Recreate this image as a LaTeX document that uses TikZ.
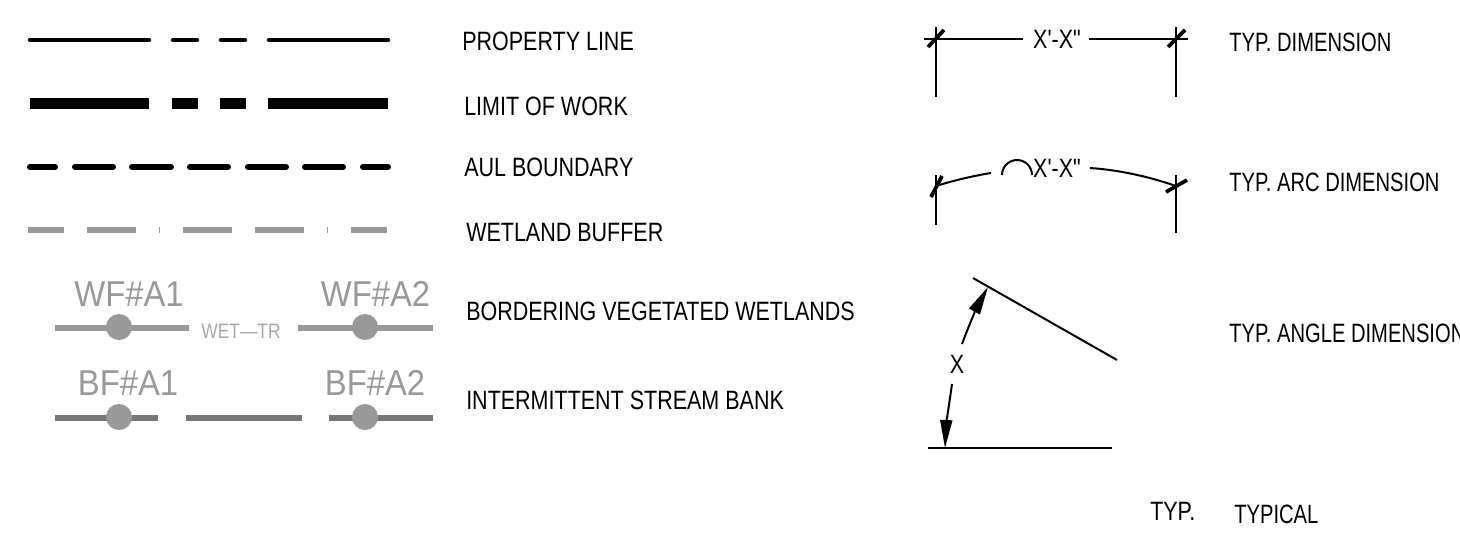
\documentclass[tikz,border=0pt]{standalone}
\usepackage{fontspec}
\setmainfont{Liberation Sans}
\newfontfamily\plainsans{Liberation Sans}
\usetikzlibrary{arrows.meta}
\definecolor{gline}{gray}{0.60}
\definecolor{gdark}{gray}{0.47}
\definecolor{gtext}{gray}{0.60}
\newcommand{\lab}[1]{\scalebox{0.81}[1]{#1}}
\newcommand{\rlab}[1]{\scalebox{0.76}[1]{#1}}
\newcommand{\tagtxt}[1]{\scalebox{0.91}[1]{#1}}
\tikzset{
  x=0.75pt,y=-0.75pt,
  lab/.style={anchor=west,inner sep=0pt,font=\fontsize{19.9}{22}\selectfont,text=black},
  prop/.style={line width=3.4pt,line cap=round,black},
  limit/.style={line width=8.2pt,line cap=butt,black},
  aul/.style={line width=4.5pt,line cap=round,black},
  buffer/.style={line width=3.8pt,line cap=butt,gline},
  wet/.style={line width=4.4pt,line cap=butt,gline},
  bank/.style={line width=4.4pt,line cap=butt,gdark},
  flag/.style={circle,fill=gline,minimum size=19.5pt,inner sep=0pt},
  gtag/.style={inner sep=0pt,font=\fontsize{27}{29}\selectfont,text=gtext},
  dim/.style={line width=1.5pt,black},
  tick/.style={line width=2.8pt,black},
  dimtxt/.style={inner sep=0pt,font=\fontsize{19.9}{22}\selectfont\plainsans,text=black},
  head/.style={-{Triangle[length=21pt,width=9pt]},line width=1.5pt,black},
}
\begin{document}
\begin{tikzpicture}
\useasboundingbox (0,0) rectangle (1460,537);
\clip (0,0) rectangle (1460,537);
% left line samples
\foreach \a/\b in {30/149,173/197,221/245,269/388} \draw[prop] (\a,40) -- (\b,40);
\foreach \a/\b in {30/149,172/198,220/246,268/388} \draw[limit] (\a,103.5) -- (\b,103.5);
\foreach \a/\b in {30/55,75/113,132/171,190/228,248/286,305/343,363/388} \draw[aul] (\a,167) -- (\b,167);
\foreach \a/\b in {28/64,87/136,183/232,255/304,351/387} \draw[buffer] (\a,230) -- (\b,230);
\foreach \a in {159,327} \draw[gline,line width=0.7pt] (\a,227) -- (\a,233);
% wetlands
\draw[wet] (55,328) -- (189,328);
\draw[wet] (298,328) -- (433,328);
\node[flag] (w1) at (119,327) {};
\node[flag] (w2) at (365,327) {};
\node[gtag] (wa1) at (129,294) {\tagtxt{WF\#A1}};
\node[gtag] (wa2) at (375.5,294) {\tagtxt{WF\#A2}};
\node[inner sep=0pt,font=\fontsize{15.7}{18}\selectfont,text=gtext!85] (wt) at (241,331) {\scalebox{0.83}[1]{WET---TR}};
% stream bank
\draw[bank] (55,418) -- (158,418);
\draw[bank] (186,418) -- (302,418);
\draw[bank] (329,418) -- (433,418);
\node[flag] (b1) at (119,417) {};
\node[flag] (b2) at (365,417) {};
\node[gtag] (ba1) at (128,383) {\tagtxt{BF\#A1}};
\node[gtag] (ba2) at (375,383) {\tagtxt{BF\#A2}};
% labels
\node[lab] (l1) at (462,41) {\lab{PROPERTY LINE}};
\node[lab] (l2) at (464,106.5) {\lab{LIMIT OF WORK}};
\node[lab] (l3) at (464,167.5) {\lab{AUL BOUNDARY}};
\node[lab] (l4) at (466,232) {\lab{WETLAND BUFFER}};
\node[lab] (l5) at (466,311) {\lab{BORDERING VEGETATED WETLANDS}};
\node[lab] (l6) at (466,400.5) {\lab{INTERMITTENT STREAM BANK}};
\node[lab] (r1) at (1229,42.5) {\rlab{TYP. DIMENSION}};
\node[lab] (r2) at (1229,182.5) {\rlab{TYP. ARC DIMENSION}};
\node[lab] (r3) at (1229,333) {\rlab{TYP. ANGLE DIMENSION}};
\node[lab] (r4) at (1150,511) {\lab{TYP.}};
\node[lab] (r5) at (1234,514) {\rlab{TYPICAL}};
% linear dimension
\node[dimtxt] (d1) at (1057,39) {\lab{X'-X"}};
\draw[dim] (924,38.5) -- (1023,38.5);
\draw[dim] (1089,38.5) -- (1188,38.5);
\draw[dim] (936,27) -- (936,97);
\draw[dim] (1176,27) -- (1176,97);
\draw[tick] (928,47) -- (944,30);
\draw[tick] (1168,47) -- (1185,30);
% arc dimension
\node[dimtxt] (d2) at (1057,168) {\lab{X'-X"}};
\draw[dim] (936,175) -- (936,225);
\draw[dim] (1176,175) -- (1176,233);
\draw[tick] (931,197) -- (942,176);
\draw[tick] (1166,192) -- (1187,180);
\draw[dim] (936,186) .. controls (952,181) and (972,176) .. (991,173);
\draw[dim] (1090,168) .. controls (1120,170) and (1150,177) .. (1176,186);
\draw[dim] (1002,175) arc (180:360:15);
% angle dimension
\draw[dim] (973,278) -- (1117,360);
\draw[dim] (928,448) -- (1112,448);
\coordinate (t1) at (988,287);
\coordinate (t2) at (945,448);
\coordinate (s1) at (962,344);
\coordinate (s2) at (952,384);
\node[dimtxt] (xx) at (957,364) {\lab{X}};
\draw[head] (s1) .. controls (969,325) and (978,305) .. (t1);
\draw[head] (s2) .. controls (949,405) and (946,426) .. (t2);
\end{tikzpicture}
\end{document}
